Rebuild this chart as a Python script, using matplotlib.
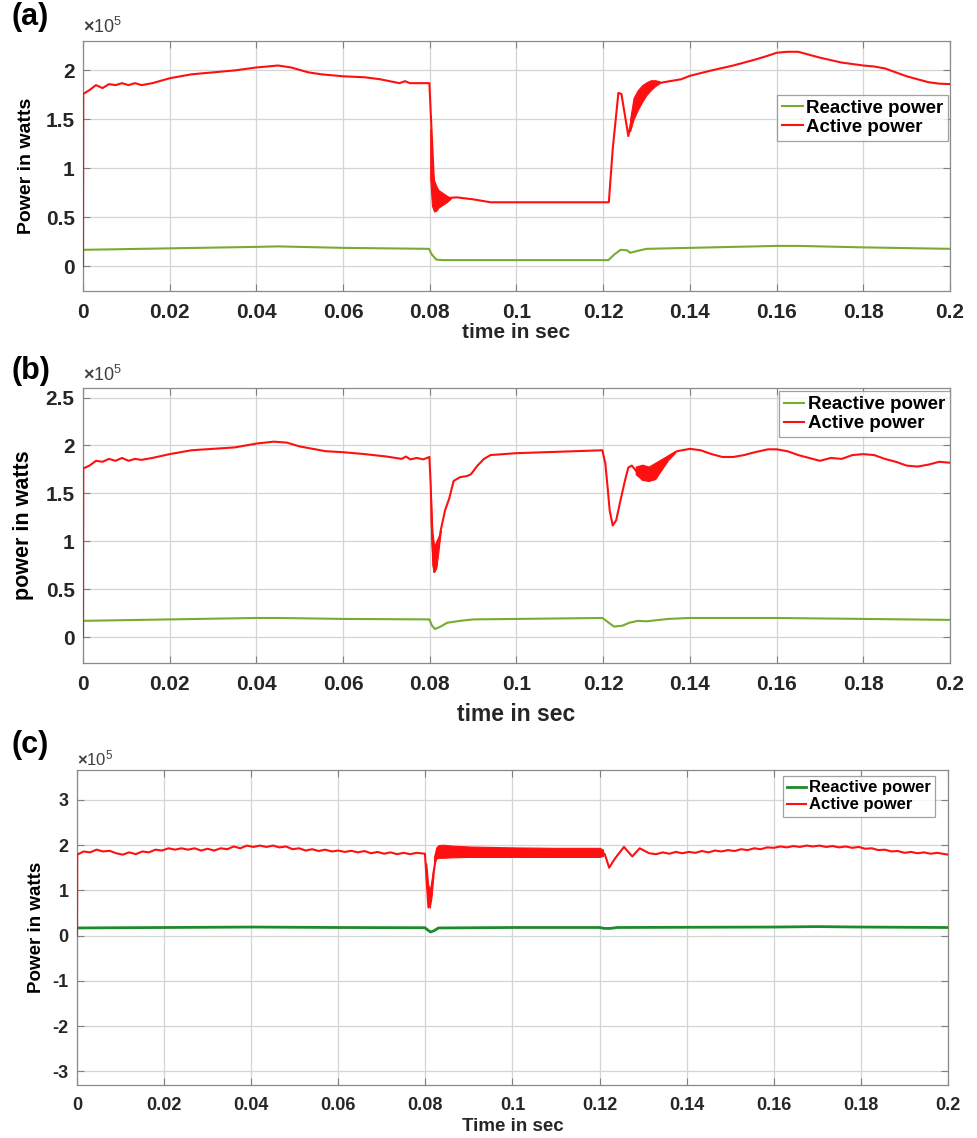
import matplotlib
matplotlib.use('Agg')
import matplotlib.pyplot as plt

plt.rcParams['font.family'] = ['Liberation Sans', 'DejaVu Sans']
plt.rcParams['font.weight'] = 'bold'
plt.rcParams['mathtext.fontset'] = 'custom'
plt.rcParams['mathtext.rm'] = 'Liberation Sans'

# all power values are in units of 1e5 W (axes show x10^5)

# ---- panel (a) ----
t_act_a = [0, 0.00005, 0.0015, 0.003, 0.0045, 0.006, 0.0075, 0.009, 0.0105, 0.012, 0.0135,
           0.016, 0.02, 0.025, 0.03, 0.035, 0.04, 0.045, 0.048, 0.052, 0.055, 0.06, 0.065,
           0.0685, 0.073, 0.0743, 0.0754, 0.0799, 0.0805, 0.0812, 0.0825, 0.0846, 0.0862,
           0.09, 0.094, 0.1, 0.11, 0.1213, 0.1222, 0.1235, 0.1242, 0.1258, 0.127, 0.129,
           0.131, 0.134, 0.138, 0.14, 0.145, 0.15, 0.155, 0.158, 0.16, 0.1625, 0.165, 0.1675,
           0.17, 0.175, 0.18, 0.1825, 0.185, 0.1875, 0.19, 0.1925, 0.195, 0.1975, 0.2]
p_act_a = [0, 1.76, 1.80, 1.85, 1.82, 1.86, 1.85, 1.87, 1.85, 1.87, 1.85,
           1.87, 1.92, 1.96, 1.98, 2.00, 2.03, 2.05, 2.03, 1.98, 1.96, 1.94, 1.93,
           1.91, 1.87, 1.89, 1.87, 1.87, 1.30, 0.62, 0.66, 0.70, 0.705,
           0.685, 0.655, 0.655, 0.655, 0.655, 1.20, 1.77, 1.76, 1.33, 1.60, 1.76,
           1.85, 1.88, 1.91, 1.945, 2.00, 2.05, 2.11, 2.15, 2.18, 2.19, 2.19, 2.16,
           2.13, 2.08, 2.05, 2.04, 2.02, 1.98, 1.94, 1.91, 1.88, 1.865, 1.86]
band_a_t1 = [0.0801, 0.0805, 0.081, 0.0815, 0.082, 0.083, 0.084, 0.0848]
band_a_hi1 = [1.40, 1.00, 0.88, 0.82, 0.78, 0.75, 0.72, 0.70]
band_a_lo1 = [0.90, 0.62, 0.56, 0.57, 0.60, 0.63, 0.66, 0.69]
band_a_t2 = [0.1262, 0.127, 0.128, 0.129, 0.130, 0.131, 0.132, 0.133]
band_a_hi2 = [1.50, 1.72, 1.80, 1.85, 1.88, 1.90, 1.90, 1.89]
band_a_lo2 = [1.38, 1.50, 1.60, 1.68, 1.75, 1.80, 1.84, 1.87]
t_rea_a = [0, 0.02, 0.04, 0.045, 0.06, 0.0798, 0.0805, 0.0815, 0.083, 0.1, 0.1212,
           0.1225, 0.124, 0.1255, 0.1262, 0.128, 0.13, 0.14, 0.16, 0.165, 0.18, 0.2]
p_rea_a = [0.17, 0.185, 0.20, 0.205, 0.19, 0.18, 0.12, 0.07, 0.065, 0.065, 0.065,
           0.12, 0.17, 0.165, 0.14, 0.16, 0.18, 0.19, 0.21, 0.21, 0.195, 0.18]

# ---- panel (b) ----
t_act_b = [0, 0.00005, 0.0015, 0.003, 0.0045, 0.006, 0.0075, 0.009, 0.0105, 0.012, 0.0135,
           0.016, 0.02, 0.025, 0.03, 0.035, 0.04, 0.044, 0.047, 0.05, 0.053, 0.056, 0.06,
           0.065, 0.07, 0.0735, 0.0745, 0.0755, 0.077, 0.0785, 0.0799, 0.0802, 0.0806,
           0.081, 0.0815, 0.082, 0.0825, 0.0835, 0.0845, 0.0855, 0.087, 0.0885, 0.0895,
           0.091, 0.0925, 0.094, 0.097, 0.1, 0.11, 0.1198, 0.1205, 0.121, 0.1215, 0.1222,
           0.123, 0.124, 0.125, 0.1258, 0.1266, 0.1275, 0.128, 0.129, 0.1305, 0.132,
           0.1335, 0.135, 0.137, 0.14, 0.1425, 0.145, 0.1475, 0.15, 0.1525, 0.155, 0.158,
           0.16, 0.1625, 0.165, 0.1675, 0.17, 0.1725, 0.175, 0.1775, 0.18, 0.1825, 0.185,
           0.1875, 0.19, 0.1925, 0.195, 0.1975, 0.2]
p_act_b = [0, 1.76, 1.79, 1.84, 1.83, 1.86, 1.84, 1.87, 1.84, 1.86, 1.85,
           1.87, 1.91, 1.95, 1.965, 1.98, 2.02, 2.04, 2.03, 1.99, 1.965, 1.94, 1.93,
           1.91, 1.885, 1.86, 1.885, 1.855, 1.87, 1.855, 1.88, 1.60, 1.00,
           0.68, 0.85, 0.95, 1.11, 1.32, 1.45, 1.63, 1.67, 1.68, 1.70,
           1.79, 1.86, 1.90, 1.91, 1.92, 1.935, 1.95, 1.81, 1.57, 1.32, 1.165,
           1.22, 1.43, 1.63, 1.77, 1.79, 1.74, 1.71, 1.72, 1.70, 1.72,
           1.80, 1.88, 1.94, 1.965, 1.95, 1.91, 1.88, 1.88, 1.90, 1.93, 1.96,
           1.96, 1.94, 1.90, 1.87, 1.84, 1.87, 1.86, 1.90, 1.91, 1.90, 1.86,
           1.83, 1.79, 1.78, 1.80, 1.83, 1.82]
band_b_t1 = [0.0802, 0.0806, 0.081, 0.0815, 0.082, 0.0825]
band_b_hi1 = [1.50, 1.10, 0.95, 1.00, 1.05, 1.11]
band_b_lo1 = [1.20, 0.75, 0.68, 0.72, 0.90, 1.10]
band_b_t2 = [0.1275, 0.129, 0.1305, 0.132, 0.1335, 0.135, 0.1365]
band_b_hi2 = [1.78, 1.80, 1.78, 1.82, 1.86, 1.90, 1.94]
band_b_lo2 = [1.70, 1.64, 1.63, 1.65, 1.75, 1.85, 1.92]
t_rea_b = [0, 0.02, 0.04, 0.045, 0.06, 0.0799, 0.0805, 0.0812, 0.0825, 0.084, 0.087,
           0.09, 0.1, 0.1198, 0.121, 0.1225, 0.1245, 0.126, 0.128, 0.13, 0.132, 0.135,
           0.14, 0.16, 0.18, 0.2]
p_rea_b = [0.17, 0.185, 0.20, 0.20, 0.19, 0.185, 0.12, 0.085, 0.11, 0.15, 0.17,
           0.185, 0.19, 0.20, 0.16, 0.11, 0.12, 0.15, 0.17, 0.165, 0.175, 0.19,
           0.20, 0.20, 0.19, 0.18]

# ---- panel (c) ----
t_act_c = [0, 0.00005, 0.0015, 0.003, 0.0045, 0.006, 0.0075, 0.009, 0.0105, 0.012, 0.0135,
           0.015, 0.0165, 0.018, 0.0195, 0.021, 0.0225, 0.024, 0.0255, 0.027, 0.0285, 0.03,
           0.0315, 0.033, 0.0345, 0.036, 0.0375, 0.039, 0.0405, 0.042, 0.0435, 0.045,
           0.0465, 0.048, 0.0495, 0.051, 0.0525, 0.054, 0.0555, 0.057, 0.0585, 0.06,
           0.0615, 0.063, 0.0645, 0.066, 0.0675, 0.069, 0.0705, 0.072, 0.0735, 0.075,
           0.0765, 0.078, 0.0799, 0.0803, 0.0807, 0.0811, 0.0815, 0.0822, 0.0828, 0.083,
           0.09, 0.1, 0.11, 0.1205, 0.1212, 0.1222, 0.1235, 0.1256, 0.1275, 0.1292, 0.1314,
           0.133, 0.1345, 0.136, 0.1375, 0.139, 0.1405, 0.142, 0.1435, 0.145, 0.1465, 0.148,
           0.1495, 0.151, 0.1525, 0.154, 0.1555, 0.157, 0.1585, 0.16, 0.1615, 0.163, 0.1645,
           0.166, 0.1675, 0.169, 0.1705, 0.172, 0.1735, 0.175, 0.1765, 0.178, 0.1795, 0.181,
           0.1825, 0.184, 0.1855, 0.187, 0.1885, 0.19, 0.1915, 0.193, 0.1945, 0.196, 0.1975,
           0.2]
p_act_c = [0, 1.79, 1.86, 1.84, 1.90, 1.86, 1.875, 1.82, 1.79, 1.84, 1.80,
           1.86, 1.84, 1.90, 1.88, 1.93, 1.90, 1.93, 1.90, 1.93, 1.88, 1.92,
           1.88, 1.93, 1.91, 1.97, 1.93, 1.99, 1.96, 1.99, 1.96, 1.99,
           1.95, 1.97, 1.91, 1.93, 1.88, 1.91, 1.87, 1.90, 1.86, 1.88,
           1.85, 1.875, 1.84, 1.87, 1.82, 1.85, 1.81, 1.84, 1.80, 1.83,
           1.80, 1.83, 1.81, 1.20, 0.62, 0.75, 1.10, 1.60, 1.90, 1.86,
           1.85, 1.84, 1.84, 1.84, 1.80, 1.50, 1.70, 1.96, 1.75, 1.93, 1.82,
           1.80, 1.84, 1.81, 1.85, 1.82, 1.85, 1.83, 1.87, 1.84, 1.88, 1.86,
           1.89, 1.87, 1.91, 1.89, 1.93, 1.91, 1.95, 1.94, 1.97, 1.95, 1.98,
           1.96, 1.99, 1.97, 1.99, 1.96, 1.98, 1.95, 1.97, 1.94, 1.96, 1.92,
           1.93, 1.89, 1.90, 1.86, 1.87, 1.83, 1.85, 1.82, 1.84, 1.81, 1.83,
           1.79]
band_c_t1 = [0.0802, 0.0806, 0.081, 0.0814, 0.0818]
band_c_hi1 = [1.60, 1.15, 1.00, 1.20, 1.50]
band_c_lo1 = [1.30, 0.70, 0.62, 0.85, 1.30]
band_c_t2 = [0.082, 0.0825, 0.083, 0.084, 0.086, 0.09, 0.1, 0.11, 0.12, 0.1208]
band_c_hi2 = [1.75, 1.95, 2.00, 2.01, 1.99, 1.97, 1.95, 1.94, 1.94, 1.90]
band_c_lo2 = [1.60, 1.70, 1.72, 1.72, 1.73, 1.74, 1.74, 1.74, 1.74, 1.76]
t_rea_c = [0, 0.02, 0.04, 0.06, 0.0799, 0.0806, 0.0812, 0.082, 0.083, 0.1, 0.12,
           0.121, 0.1225, 0.124, 0.14, 0.16, 0.17, 0.18, 0.2]
p_rea_c = [0.17, 0.18, 0.19, 0.18, 0.175, 0.12, 0.08, 0.11, 0.17, 0.18, 0.18,
           0.16, 0.16, 0.18, 0.185, 0.19, 0.20, 0.19, 0.18]

x_ticks = [0, 0.02, 0.04, 0.06, 0.08, 0.1, 0.12, 0.14, 0.16, 0.18, 0.2]
x_ticklabels = ['0', '0.02', '0.04', '0.06', '0.08', '0.1', '0.12', '0.14', '0.16', '0.18', '0.2']

RED = '#ff1010'
GREEN_AB = '#77ac30'
GREEN_C = '#1f8a2a'
TXT = '#262626'

fig = plt.figure(figsize=(9.78, 11.38), dpi=100)

W, H = 978, 1138
def px_axes(l, t, r, b):
    return fig.add_axes([l / W, 1 - b / H, (r - l) / W, (b - t) / H])

ax_a = px_axes(83, 41, 950, 291)
ax_b = px_axes(83, 388, 950, 663)
ax_c = px_axes(77, 770, 948, 1085)

# axes, active, bands, reactive, green, ylim, yticks, labels, font sizes, legend anchor
panels = [
    (ax_a, t_act_a, p_act_a, [(band_a_t1, band_a_hi1, band_a_lo1), (band_a_t2, band_a_hi2, band_a_lo2)],
     t_rea_a, p_rea_a, GREEN_AB, (-0.25, 2.3), [0, 0.5, 1, 1.5, 2], ['0', '0.5', '1', '1.5', '2'],
     'Power in watts', 'time in sec', 15, 14, 15, 13.5, (0.998, 0.785)),
    (ax_b, t_act_b, p_act_b, [(band_b_t1, band_b_hi1, band_b_lo1), (band_b_t2, band_b_hi2, band_b_lo2)],
     t_rea_b, p_rea_b, GREEN_AB, (-0.27, 2.6), [0, 0.5, 1, 1.5, 2, 2.5], ['0', '0.5', '1', '1.5', '2', '2.5'],
     'power in watts', 'time in sec', 15, 15.5, 16.5, 13.5, (1.0, 0.988)),
    (ax_c, t_act_c, p_act_c, [(band_c_t1, band_c_hi1, band_c_lo1), (band_c_t2, band_c_hi2, band_c_lo2)],
     t_rea_c, p_rea_c, GREEN_C, (-3.3, 3.66), [-3, -2, -1, 0, 1, 2, 3], ['-3', '-2', '-1', '0', '1', '2', '3'],
     'Power in watts', 'Time in sec', 13, 13.5, 13.5, 12, (0.985, 0.98)),
]

for ax, ta, pa, bands, tr, pr, gcol, ylim, yt, ytl, ylab, xlab, tfs, yfs, xfs, lfs, anchor in panels:
    lw_g = 2.0 if ax is ax_c else 1.5
    ax.plot(tr, pr, color=gcol, lw=lw_g, label='Reactive power', zorder=3)
    ax.plot(ta, pa, color=RED, lw=1.5, label='Active power', zorder=4)
    for bt, bhi, blo in bands:
        ax.fill_between(bt, blo, bhi, color=RED, lw=0.8, edgecolor=RED, zorder=4)
    ax.set_xlim(0, 0.2)
    ax.set_ylim(*ylim)
    ax.set_xticks(x_ticks)
    ax.set_xticklabels(x_ticklabels)
    ax.set_yticks(yt)
    ax.set_yticklabels(ytl)
    ax.grid(True, color='#d4d4d4', lw=0.9)
    ax.set_axisbelow(True)
    ax.tick_params(direction='in', length=5, width=0.8, color='#808080', top=True, right=True,
                   labelsize=tfs, labelcolor=TXT)
    ax.tick_params(axis='x', pad=9)
    ax.tick_params(axis='y', pad=6)
    for lab in ax.get_xticklabels() + ax.get_yticklabels():
        lab.set_fontweight('bold')
    for s in ax.spines.values():
        s.set_color('#8a8a8a')
        s.set_linewidth(0.9)
    ax.set_ylabel(ylab, fontsize=yfs, fontweight='bold', color='black')
    ax.set_xlabel(xlab, fontsize=xfs, fontweight='bold', color=TXT)
    leg = ax.legend(loc='upper right', bbox_to_anchor=anchor, fontsize=lfs, frameon=True,
                    fancybox=False, handlelength=1.1, handletextpad=0.2, borderpad=0.25,
                    labelspacing=0.12, borderaxespad=0.0)
    leg.get_frame().set_edgecolor('#8a8a8a')
    leg.get_frame().set_linewidth(0.9)
    for txt in leg.get_texts():
        txt.set_fontweight('bold')

ax_a.yaxis.set_label_coords(-0.055, 0.5)
ax_b.yaxis.set_label_coords(-0.057, 0.5)
ax_c.yaxis.set_label_coords(-0.037, 0.5)
ax_a.xaxis.set_label_coords(0.5, -0.13)
ax_b.xaxis.set_label_coords(0.5, -0.145)
ax_c.xaxis.set_label_coords(0.5, -0.105)

for ax, fs, yoff in [(ax_a, 13, 1.032), (ax_b, 13, 1.025), (ax_c, 12, 1.016)]:
    ax.text(0.0, yoff, r'$\times\mathregular{10^{5}}$', transform=ax.transAxes,
            fontsize=fs, fontweight='normal', color='#404040', ha='left', va='baseline')

for lab, top in [('(a)', 2), ('(b)', 356), ('(c)', 730)]:
    fig.text(12 / W, 1 - top / H, lab, fontsize=22, fontweight='bold', va='top', ha='left')

fig.savefig('out.png', dpi=100)
